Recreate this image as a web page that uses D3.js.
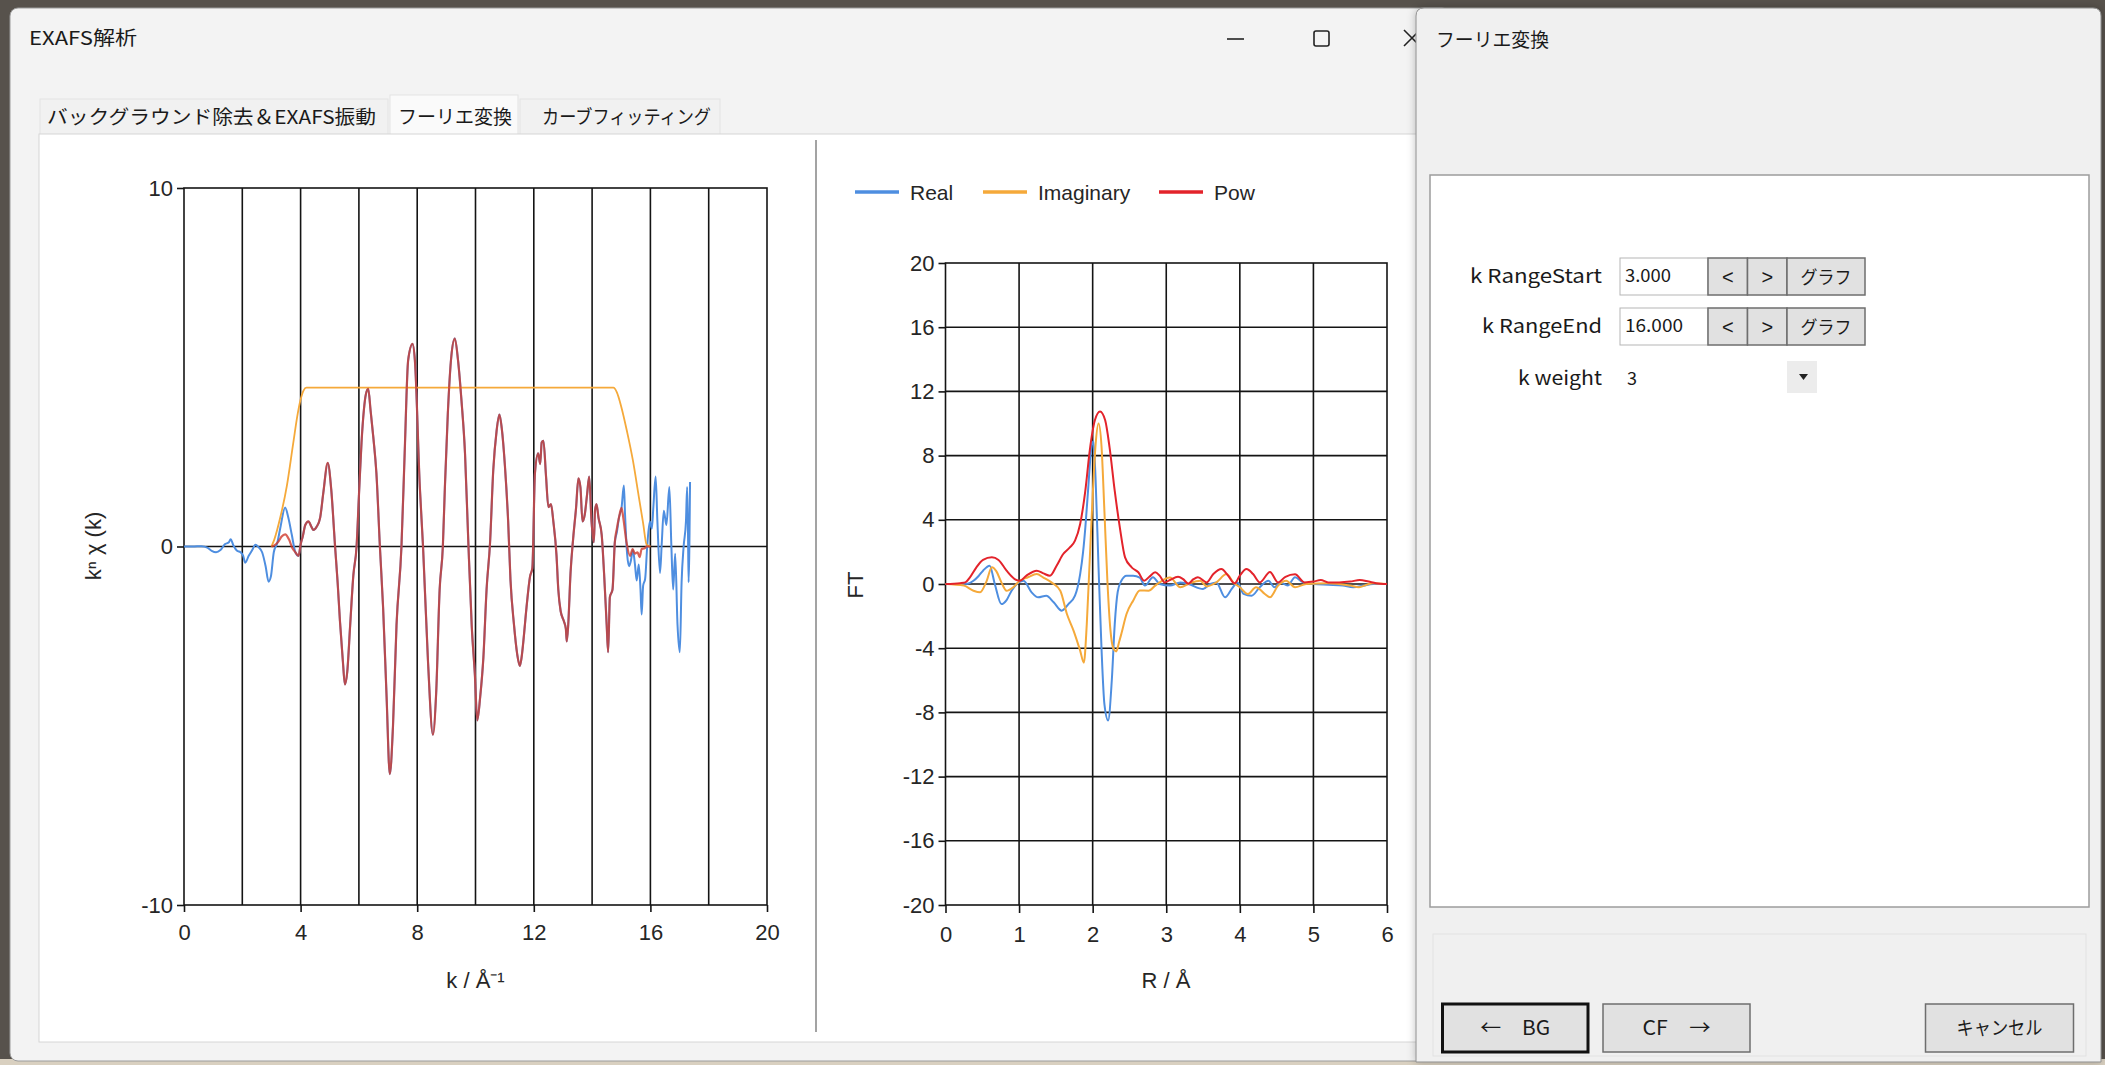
<!DOCTYPE html>
<html>
<head>
<meta charset="utf-8">
<script src="https://cdn.jsdelivr.net/npm/d3@7"></script>
<style>
  html, body { margin: 0; padding: 0; background: #57524c; overflow: hidden; }
  svg { display: block; }
</style>
</head>
<body>
<svg id="screen" width="2105" height="1065"></svg>
<script>
// ---------- axis ticks and grid ----------
const kTicks = [0, 4, 8, 12, 16, 20];
const kGridLines = [2, 4, 6, 8, 10, 12, 14, 16, 18];
const chiTicks = [-10, 0, 10];
const rTicks = [0, 1, 2, 3, 4, 5, 6];
const ftTicks = [-20, -16, -12, -8, -4, 0, 4, 8, 12, 16, 20];

// ---------- k-space data: [k, k^n chi(k)] ----------
// raw spectrum below the window start
const chiRawLow = [
  [0, 0], [0.3, 0], [0.6, 0.01], [0.8, -0.03], [0.95, -0.12], [1.1, -0.16], [1.25, -0.1],
  [1.4, 0.06], [1.54, 0.12], [1.6, 0.2], [1.7, 0.02], [1.82, -0.12], [1.94, -0.16],
  [2.03, -0.26], [2.1, -0.45], [2.22, -0.26], [2.34, -0.1], [2.45, 0.05], [2.56, -0.02],
  [2.68, -0.16], [2.8, -0.55], [2.9, -0.98], [2.98, -0.84], [3.08, -0.16], [3.2, 0.1],
  [3.3, 0.5], [3.47, 1.09], [3.58, 0.8], [3.7, 0.32], [3.82, -0.16], [3.93, -0.26]
];
// part shared by the raw and the windowed spectrum (window = 1)
const chiShared = [
  [4.0, 0.05], [4.08, 0.3], [4.16, 0.6], [4.27, 0.7], [4.37, 0.55], [4.44, 0.46], [4.55, 0.55],
  [4.67, 0.8], [4.78, 1.5], [4.93, 2.33], [5.05, 1.6], [5.18, 0.03], [5.27, -1.0], [5.35, -2.08],
  [5.45, -3.2], [5.52, -3.85], [5.6, -3.5], [5.7, -2.2], [5.81, -0.8], [5.92, 0], [6.0, 1.4],
  [6.09, 2.9], [6.17, 3.8], [6.24, 4.25], [6.32, 4.4], [6.4, 3.8], [6.5, 3.0], [6.6, 2.05],
  [6.72, 0], [6.83, -1.7], [6.95, -4.2], [7.06, -6.35], [7.17, -5.0], [7.29, -2.2], [7.46, 0],
  [7.57, 2.6], [7.69, 5.2], [7.84, 5.65], [7.92, 5.2], [8.09, 1.66], [8.2, 0], [8.37, -3.2],
  [8.54, -5.25], [8.65, -4.1], [8.77, -1.2], [8.88, 0], [8.95, 1.66], [9.05, 3.7], [9.17, 5.3],
  [9.29, 5.8], [9.4, 5.2], [9.52, 4.06], [9.64, 2.6], [9.75, 0.2], [9.87, -2.2], [9.98, -3.6],
  [10.06, -4.85], [10.16, -4.2], [10.27, -3.1], [10.38, -1.2], [10.5, 0.12], [10.61, 2.14],
  [10.72, 3.2], [10.82, 3.68], [10.9, 3.3], [11.01, 2.24], [11.12, 0.7], [11.2, -0.93],
  [11.32, -2.18], [11.43, -3.0], [11.52, -3.33], [11.58, -3.1], [11.64, -2.66], [11.75, -1.7],
  [11.87, -0.84], [11.95, -0.6], [12.04, 2.05], [12.15, 2.6], [12.22, 2.3], [12.27, 2.9],
  [12.33, 2.95], [12.42, 1.95], [12.5, 1.1], [12.59, 1.18], [12.67, 0.7], [12.78, -0.26],
  [12.84, -1.2], [12.92, -1.8], [13.03, -2.08], [13.1, -2.3], [13.13, -2.65], [13.18, -2.2],
  [13.26, -0.74], [13.35, 0.22], [13.45, 1.08], [13.53, 1.9], [13.6, 1.65], [13.67, 0.7],
  [13.75, 0.9], [13.83, 1.47], [13.9, 1.95], [13.98, 0.7], [14.06, 0.12], [14.1, 1.0],
  [14.15, 1.18], [14.22, 0.8], [14.33, 0.32], [14.41, -0.74], [14.5, -2.18], [14.55, -2.95],
  [14.61, -1.41], [14.7, -1.2]
];
// raw spectrum above the window fall-off start
const chiRawHigh = [
  [14.78, 0.12], [14.85, 0.4], [14.92, 0.8], [15.01, 1.08], [15.09, 1.7], [15.13, 0.9],
  [15.2, -0.2], [15.27, -0.55], [15.33, -0.4], [15.4, -0.1], [15.47, -0.5], [15.53, -0.95],
  [15.6, -0.5], [15.66, -1.2], [15.7, -1.9], [15.75, -1.1], [15.82, -0.9], [15.89, 0],
  [15.98, 0.7], [16.05, 0.5], [16.1, 1.08], [16.18, 1.95], [16.24, 0.7], [16.33, -0.74],
  [16.39, 0.1], [16.46, 1.0], [16.55, 0.6], [16.65, 1.66], [16.72, 0.0], [16.78, -1.2],
  [16.85, -0.2], [16.93, -2.18], [17.01, -2.95], [17.07, -1.0], [17.14, 0.0], [17.22, 0.7],
  [17.26, 1.66], [17.29, 0.4], [17.31, -1.0], [17.36, 1.8]
];
// windowed spectrum on the rising and falling edges
const chiWinLow = [
  [3.0, 0], [3.1, 0.03], [3.25, 0.15], [3.35, 0.28], [3.47, 0.34], [3.6, 0.2], [3.72, -0.05],
  [3.82, -0.16], [3.93, -0.26]
];
const chiWinHigh = [
  [14.78, 0.12], [14.85, 0.5], [14.92, 0.8], [15.01, 1.08], [15.07, 0.8], [15.18, 0.12],
  [15.3, -0.26], [15.39, -0.07], [15.47, -0.2], [15.56, -0.16], [15.63, -0.3], [15.7, -0.07],
  [15.8, -0.05], [15.87, 0], [16.0, 0]
];
// window function as plotted
const kWindow = [
  [3.0, 0], [3.1, 0.2], [3.3, 0.8], [3.53, 1.7], [3.75, 2.9], [3.9, 3.7], [4.0, 4.1],
  [4.1, 4.35], [4.2, 4.43], [14.73, 4.43], [14.85, 4.3], [15.0, 3.9], [15.2, 3.2],
  [15.4, 2.4], [15.6, 1.4], [15.75, 0.65], [15.87, 0.05], [16.0, 0]
];

// ---------- R-space data: [R, FT] ----------
const ftReal = [
  [0, 0], [0.3, 0.02], [0.38, 0.2], [0.45, 0.5], [0.51, 0.83], [0.6, 1.14], [0.67, 0],
  [0.76, -1.25], [0.83, -1.0], [0.9, -0.4], [0.97, 0], [1.06, 0.2], [1.17, -0.52],
  [1.26, -0.83], [1.37, -0.73], [1.47, -1.14], [1.58, -1.66], [1.67, -1.25], [1.76, -0.73],
  [1.83, 0.62], [1.87, 2.0], [1.9, 3.5], [1.94, 6.0], [1.98, 8.4], [2.01, 8.9], [2.04, 6.5],
  [2.08, 1.0], [2.12, -4.0], [2.16, -7.5], [2.21, -8.5], [2.26, -6.0], [2.3, -2.5],
  [2.34, -0.5], [2.39, 0.2], [2.46, 0.52], [2.55, 0.52], [2.64, 0.4], [2.71, -0.1],
  [2.82, 0.42], [2.91, 0], [3.05, -0.1], [3.19, 0.1], [3.3, 0.0], [3.5, -0.31], [3.6, 0],
  [3.68, 0.1], [3.8, -0.83], [3.89, -0.31], [3.97, 0.1], [4.05, -0.62], [4.16, -0.73],
  [4.27, -0.2], [4.39, 0.2], [4.47, -0.2], [4.55, 0.1], [4.65, -0.1], [4.75, 0.42],
  [4.86, 0.1], [5.0, 0], [5.2, -0.05], [5.4, -0.1], [5.54, -0.2], [5.68, -0.1], [5.81, 0],
  [6.0, 0]
];
const ftImag = [
  [0, 0], [0.25, -0.1], [0.38, -0.42], [0.47, -0.52], [0.56, 0.2], [0.63, 1.04], [0.69, 0.8],
  [0.76, 0.1], [0.83, -0.42], [0.92, -0.2], [1.01, 0.2], [1.12, 0.42], [1.24, 0.62],
  [1.33, 0.4], [1.44, 0.1], [1.56, -0.42], [1.65, -1.87], [1.74, -2.9], [1.83, -4.15],
  [1.88, -4.9], [1.92, -2.5], [1.96, 1.5], [2.0, 5.5], [2.04, 8.7], [2.08, 10.0], [2.12, 8.6],
  [2.16, 4.5], [2.2, 0.2], [2.24, -2.8], [2.28, -4.0], [2.32, -4.2], [2.36, -3.6],
  [2.39, -3.1], [2.46, -1.87], [2.55, -1.04], [2.64, -0.4], [2.76, -0.42], [2.85, -0.1],
  [2.91, 0.1], [3.05, 0.4], [3.19, -0.2], [3.32, 0.05], [3.46, 0.2], [3.55, -0.15],
  [3.68, 0.1], [3.82, 0.62], [3.91, 0.1], [4.0, -0.2], [4.11, -0.62], [4.22, -0.2],
  [4.34, -0.62], [4.41, -0.83], [4.52, -0.1], [4.63, 0.2], [4.75, -0.2], [4.9, 0],
  [5.2, 0.05], [5.5, -0.1], [5.62, -0.2], [5.8, 0.05], [6.0, 0]
];
const ftPow = [
  [0, 0], [0.2, 0.05], [0.27, 0.1], [0.33, 0.4], [0.42, 1.04], [0.51, 1.5], [0.63, 1.66],
  [0.72, 1.5], [0.83, 0.83], [0.94, 0.31], [1.01, 0.2], [1.1, 0.52], [1.24, 0.83],
  [1.33, 0.66], [1.42, 0.52], [1.51, 1.14], [1.6, 1.87], [1.69, 2.28], [1.76, 2.7],
  [1.83, 3.74], [1.9, 5.8], [1.96, 8.3], [2.03, 10.2], [2.1, 10.75], [2.17, 10.2],
  [2.23, 8.5], [2.3, 5.8], [2.37, 3.5], [2.44, 1.66], [2.53, 1.04], [2.62, 0.73], [2.7, 0.2],
  [2.77, 0.45], [2.85, 0.73], [2.91, 0.52], [2.98, 0.1], [3.05, 0.25], [3.16, 0.45],
  [3.23, 0.3], [3.3, 0.02], [3.37, 0.3], [3.43, 0.42], [3.55, 0.1], [3.64, 0.62],
  [3.75, 0.93], [3.84, 0.52], [3.93, 0.04], [4.0, 0.52], [4.09, 0.93], [4.18, 0.62],
  [4.27, 0.1], [4.41, 0.75], [4.52, 0.1], [4.62, 0.45], [4.75, 0.6], [4.88, 0.1], [5.0, 0.15],
  [5.1, 0.25], [5.2, 0.1], [5.35, 0.1], [5.5, 0.15], [5.63, 0.25], [5.75, 0.15],
  [5.85, 0.05], [6.0, 0]
];

const legendItems = [
  { name: 'Real', color: '#4e8ee0', data: ftReal },
  { name: 'Imaginary', color: '#f5a93a', data: ftImag },
  { name: 'Pow', color: '#e3232b', data: ftPow }
];

// ---------- fonts and colours ----------
const FONT_NUM = '"Liberation Sans", Arial, sans-serif';
const FONT_UI = '"Noto Sans CJK JP", "Noto Sans", sans-serif';
const GRID = '#141414';
const plainNumber = d => String(d);   // hyphen-minus, as the chart control prints it

const svg = d3.select('#screen');

function label(g, x, y, str, o = {}) {
  const t = g.append('text')
    .attr('x', x).attr('y', y).text(str)
    .attr('font-family', o.font || FONT_UI)
    .attr('font-size', o.size || 19)
    .attr('fill', o.fill || '#1a1a1a')
    .attr('text-anchor', o.anchor || 'start');
  if (o.len) t.attr('textLength', o.len).attr('lengthAdjust', 'spacingAndGlyphs');
  return t;
}

// ---------- desktop and main window ----------
svg.append('rect').attr('width', 2105).attr('height', 1065).attr('fill', '#57524c');
svg.append('rect').attr('y', 1059).attr('width', 2105).attr('height', 6).attr('fill', '#d9d0c0');

const mainWin = svg.append('g');
mainWin.append('rect')
  .attr('x', 10).attr('y', 8).attr('width', 1440).attr('height', 1053).attr('rx', 8)
  .attr('fill', '#f3f3f3').attr('stroke', '#9c9c9c');
label(mainWin, 29, 45, 'EXAFS解析', { size: 19, len: 108 });

// caption buttons
mainWin.append('line').attr('x1', 1227).attr('x2', 1244).attr('y1', 39).attr('y2', 39)
  .attr('stroke', '#222').attr('stroke-width', 1.6);
mainWin.append('rect').attr('x', 1314).attr('y', 31).attr('width', 15).attr('height', 15).attr('rx', 2)
  .attr('fill', 'none').attr('stroke', '#222').attr('stroke-width', 1.6);
mainWin.append('path').attr('d', 'M1404,30 L1420,46 M1420,30 L1404,46')
  .attr('stroke', '#222').attr('stroke-width', 1.6);

// tab strip
const tabs = [
  { text: 'バックグラウンド除去＆EXAFS振動', x0: 40, x1: 388, tx: 47, len: 329, sel: false },
  { text: 'フーリエ変換', x0: 390, x1: 518, tx: 398, len: 114, sel: true },
  { text: 'カーブフィッティング', x0: 520, x1: 720, tx: 542, len: 169, sel: false }
];
tabs.forEach(t => {
  mainWin.append('rect')
    .attr('x', t.x0).attr('y', t.sel ? 95 : 99).attr('width', t.x1 - t.x0)
    .attr('height', t.sel ? 40 : 36)
    .attr('fill', t.sel ? '#fafafa' : '#f1f1f1').attr('stroke', '#e3e3e3');
  label(mainWin, t.tx, 124, t.text, { size: 19, len: t.len });
});

// tab page
mainWin.append('rect').attr('x', 39).attr('y', 134).attr('width', 1411).attr('height', 908)
  .attr('fill', '#ffffff').attr('stroke', '#d6d6d6');
mainWin.append('line').attr('x1', 816).attr('x2', 816).attr('y1', 140).attr('y2', 1032)
  .attr('stroke', '#a3a3a3').attr('stroke-width', 2);

// ---------- shared axis helpers ----------
function styleAxis(a) {
  a.select('.domain').remove();
  a.selectAll('line').attr('stroke', GRID).attr('stroke-width', 1.6);
  a.selectAll('text').attr('font-family', FONT_NUM).attr('font-size', 22).attr('fill', '#262626');
}
function gridAndFrame(g, x, y, xLines, yLines) {
  const [yb, yt] = y.range();
  const [xl, xr] = x.range();
  g.append('g').selectAll('line').data(xLines).join('line')
    .attr('x1', d => x(d)).attr('x2', d => x(d)).attr('y1', yt).attr('y2', yb)
    .attr('stroke', GRID).attr('stroke-width', 1.6);
  g.append('g').selectAll('line').data(yLines).join('line')
    .attr('x1', xl).attr('x2', xr).attr('y1', d => y(d)).attr('y2', d => y(d))
    .attr('stroke', GRID).attr('stroke-width', 1.6);
  g.append('rect').attr('x', xl).attr('y', yt).attr('width', xr - xl).attr('height', yb - yt)
    .attr('fill', 'none').attr('stroke', GRID).attr('stroke-width', 1.6);
}

// ---------- k-space chart ----------
const kx = d3.scaleLinear().domain([0, 20]).range([184, 767]);
const ky = d3.scaleLinear().domain([-10, 10]).range([905, 188]);
const kChart = svg.append('g');
gridAndFrame(kChart, kx, ky, kGridLines, [0]);
kChart.append('g').attr('transform', 'translate(0,905)')
  .call(d3.axisBottom(kx).tickValues(kTicks).tickSize(7).tickPadding(12).tickFormat(plainNumber))
  .call(styleAxis);
kChart.append('g').attr('transform', 'translate(184,0)')
  .call(d3.axisLeft(ky).tickValues(chiTicks).tickSize(7).tickPadding(4).tickFormat(plainNumber))
  .call(styleAxis);

const kLine = d3.line().x(d => kx(d[0])).y(d => ky(d[1])).curve(d3.curveMonotoneX);
const chiRaw = chiRawLow.concat(chiShared, chiRawHigh);
const chiWin = chiWinLow.concat(chiShared, chiWinHigh);
kChart.append('path').attr('d', kLine(chiRaw))
  .attr('fill', 'none').attr('stroke', '#4e8ee0').attr('stroke-width', 2);
kChart.append('path').attr('d', kLine(kWindow))
  .attr('fill', 'none').attr('stroke', '#f5a93a').attr('stroke-width', 1.8);
kChart.append('path').attr('d', kLine(chiWin))
  .attr('fill', 'none').attr('stroke', '#d03a2c').attr('stroke-opacity', 0.8).attr('stroke-width', 2.2);

label(kChart, 475.5, 988, 'k / Å⁻¹', { font: FONT_NUM, size: 22, anchor: 'middle', fill: '#262626' });
label(kChart, 0, 0, 'kⁿ χ (k)', { font: FONT_NUM, size: 22, anchor: 'middle', fill: '#262626' })
  .attr('transform', 'translate(101,546) rotate(-90)');

// ---------- R-space chart ----------
const rx = d3.scaleLinear().domain([0, 6]).range([945.5, 1387]);
const ry = d3.scaleLinear().domain([-20, 20]).range([905, 263]);
const rChart = svg.append('g');
gridAndFrame(rChart, rx, ry, rTicks.slice(1, -1), ftTicks.slice(1, -1));
rChart.append('g').attr('transform', 'translate(0,905)')
  .call(d3.axisBottom(rx).tickValues(rTicks).tickSize(8).tickPadding(13).tickFormat(plainNumber))
  .call(styleAxis);
rChart.append('g').attr('transform', 'translate(945.5,0)')
  .call(d3.axisLeft(ry).tickValues(ftTicks).tickSize(7).tickPadding(4).tickFormat(plainNumber))
  .call(styleAxis);

const rLine = d3.line().x(d => rx(d[0])).y(d => ry(d[1])).curve(d3.curveMonotoneX);
legendItems.forEach(s => {
  rChart.append('path').attr('d', rLine(s.data))
    .attr('fill', 'none').attr('stroke', s.color).attr('stroke-width', 2);
});

label(rChart, 1166, 988, 'R / Å', { font: FONT_NUM, size: 22, anchor: 'middle', fill: '#262626' });
label(rChart, 0, 0, 'FT', { font: FONT_NUM, size: 22, anchor: 'middle', fill: '#262626' })
  .attr('transform', 'translate(863,585) rotate(-90)');

// legend
const legendX = [855, 983, 1159];
legendItems.forEach((s, i) => {
  rChart.append('line')
    .attr('x1', legendX[i]).attr('x2', legendX[i] + 44).attr('y1', 192).attr('y2', 192)
    .attr('stroke', s.color).attr('stroke-width', 3.5);
  label(rChart, legendX[i] + 55, 200, s.name, { font: FONT_NUM, size: 21, fill: '#262626' });
});

// ---------- Fourier transform dialog ----------
const defs = svg.append('defs');
const sh = defs.append('filter').attr('id', 'dlgShadow').attr('x', -0.05).attr('y', -0.05)
  .attr('width', 1.1).attr('height', 1.1);
sh.append('feDropShadow').attr('dx', 0).attr('dy', 0).attr('stdDeviation', 4)
  .attr('flood-color', '#000').attr('flood-opacity', 0.25);

const dlg = svg.append('g');
dlg.append('path')
  .attr('d', 'M1416,1062 L1416,16 Q1416,8 1424,8 L2093,8 Q2101,8 2101,16 L2101,1062 Z')
  .attr('fill', '#f0f0f0').attr('stroke', '#8e8e8e').attr('filter', 'url(#dlgShadow)');
label(dlg, 1436, 47, 'フーリエ変換', { size: 19, len: 113 });

dlg.append('rect').attr('x', 1430).attr('y', 175).attr('width', 659).attr('height', 732)
  .attr('fill', '#ffffff').attr('stroke', '#9c9c9c').attr('stroke-width', 1.5);
dlg.append('rect').attr('x', 1433).attr('y', 934).attr('width', 653).attr('height', 122)
  .attr('fill', 'none').attr('stroke', '#e2e2e2');

// k range rows
const rangeRows = [
  { name: 'k RangeStart', value: '3.000', y0: 258, lx: 132, vlen: 46 },
  { name: 'k RangeEnd', value: '16.000', y0: 308, lx: 120, vlen: 58 }
];
function btn(g, x0, x1, y0, y1, txt, o = {}) {
  g.append('rect').attr('x', x0).attr('y', y0).attr('width', x1 - x0).attr('height', y1 - y0)
    .attr('fill', '#e1e1e1').attr('stroke', o.stroke || '#6e6e6e').attr('stroke-width', o.sw || 1.5);
  return label(g, (x0 + x1) / 2, (y0 + y1) / 2 + (o.dy || 7), txt,
    { size: o.size || 19, anchor: 'middle', len: o.len, font: o.font });
}
rangeRows.forEach(r => {
  label(dlg, 1602, r.y0 + 25, r.name, { size: 19, anchor: 'end', len: r.lx });
  dlg.append('rect').attr('x', 1620).attr('y', r.y0).attr('width', 88).attr('height', 37)
    .attr('fill', '#ffffff').attr('stroke', '#b5b5b5');
  label(dlg, 1625, r.y0 + 24, r.value, { size: 18, len: r.vlen });
  btn(dlg, 1708, 1747.5, r.y0, r.y0 + 37, '<', { size: 20, font: FONT_NUM });
  btn(dlg, 1747.5, 1787, r.y0, r.y0 + 37, '>', { size: 20, font: FONT_NUM });
  btn(dlg, 1787, 1865, r.y0, r.y0 + 37, 'グラフ', { size: 18, len: 51 });
});
label(dlg, 1602, 385, 'k weight', { size: 19, anchor: 'end', len: 84 });
label(dlg, 1627, 385, '3', { size: 18 });
dlg.append('rect').attr('x', 1787).attr('y', 361).attr('width', 30).attr('height', 32)
  .attr('fill', '#ececec');
dlg.append('path').attr('d', 'M1799,374 L1808,374 L1803.5,380 Z').attr('fill', '#222');

// bottom buttons
btn(dlg, 1442.5, 1588, 1004, 1052, '←　BG', { stroke: '#111', sw: 3, size: 20, len: 70, dy: 7 });
btn(dlg, 1603, 1750, 1004, 1052, 'CF　→', { size: 20, len: 68, dy: 7 });
btn(dlg, 1925.5, 2073.5, 1004, 1052, 'キャンセル', { size: 19, len: 86, dy: 7 });
</script>
</body>
</html>
